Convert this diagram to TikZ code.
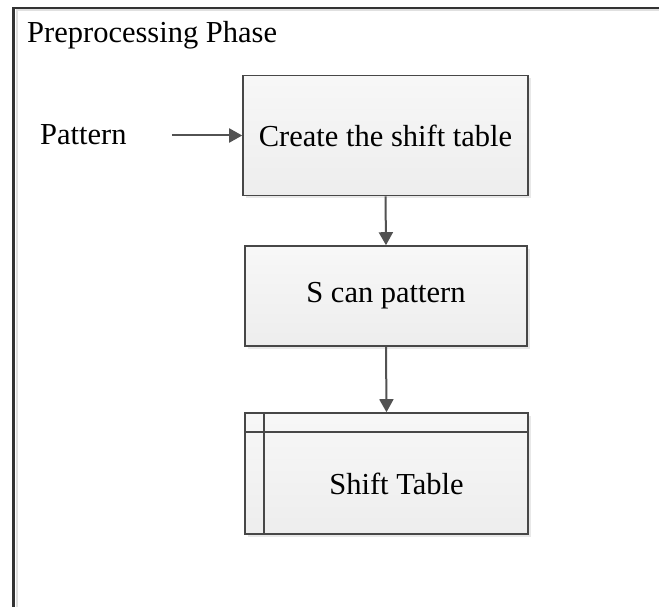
\documentclass[tikz,border=0pt]{standalone}
\usepackage{fontspec}
\setmainfont{Liberation Serif}
\usetikzlibrary{arrows.meta,shadows}
\begin{document}
\begin{tikzpicture}[x=1pt,y=-1pt,
  txt/.style={font=\fontsize{30.5}{34}\selectfont, text=black, inner sep=0pt},
  procbox/.style={draw=black!72, line width=1.6pt, top color=white!97!black, bottom color=black!7,
    drop shadow={shadow xshift=3pt, shadow yshift=-3pt, fill=black!9, opacity=1},
    minimum height=0pt, minimum width=0pt, inner sep=0pt},
  flow/.style={draw=black!68, line width=2pt, -{Triangle[length=13pt 0,width=14pt 0]}},
]
\useasboundingbox (0,0) rectangle (659,607);
\fill[white] (0,0) rectangle (659,607);

% outer phase frame (only its top and left edges lie in view)
\draw[black!12, line width=2pt] (16.5,607) -- (16.5,10.5) -- (659,10.5);
\draw[black!80, line width=2.2pt] (13.5,607) -- (13.5,8) -- (659,8);

\node[txt, anchor=base west] (title) at (27,43) {Preprocessing Phase};

% process steps
\node[procbox, minimum width=285pt, minimum height=120pt] (create) at (385.5,135.5) {};
\node[txt] (createtxt) at (create.center) {Create the shift table};

\node[procbox, minimum width=282pt, minimum height=100pt] (scan) at (386,296) {};
\node[txt] (scantxt) at (scan.center) {S can pattern};

% data store: shift table
\node[procbox, minimum width=283pt, minimum height=121pt] (table) at (386.5,473.5) {};
\draw[black!72, line width=1.6pt] ([xshift=20pt]table.north west) -- ([xshift=20pt]table.south west);
\draw[black!72, line width=1.6pt] ([yshift=-20pt]table.north west) -- ([yshift=-20pt]table.north east);
\node[txt] (tabletxt) at (396.5,483.5) {Shift Table};

% input
\node[txt, anchor=west] (pattern) at (40,135) {Pattern};

% connectors
\draw[flow] ([xshift=45pt]pattern.east |- create.west) -- (create.west);
\draw[flow] (create.south) -- (scan.north);
\draw[flow] (scan.south) -- (table.north);
\end{tikzpicture}
\end{document}
